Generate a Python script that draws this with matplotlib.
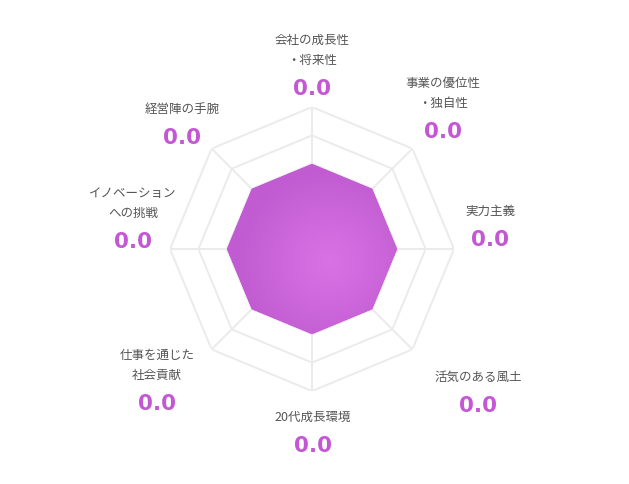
import numpy as np
import matplotlib
matplotlib.use("Agg")
import matplotlib.pyplot as plt
from matplotlib.colors import LinearSegmentedColormap

plt.rcParams['font.family'] = ['Noto Sans CJK JP', 'DejaVu Sans']

# 項目（上から時計回り）
labels = ['会社の成長性\n・将来性', '事業の優位性\n・独自性', '実力主義', '活気のある風土',
          '20代成長環境', '仕事を通じた\n社会貢献', 'イノベーション\nへの挑戦', '経営陣の手腕']
scores = [0.0, 0.0, 0.0, 0.0, 0.0, 0.0, 0.0, 0.0]
shape_values = [3, 3, 3, 3, 3, 3, 3, 3]
levels = [1, 2, 3, 4, 5]

# 数値ラベルの位置（中心からのピクセルオフセット）
label_offsets = [(0, 160), (131, 117), (178, 9), (166, -157),
                 (1, -197), (-155, -155), (-179, 7), (-130, 111)]

n = len(labels)
angles = np.linspace(0, 2 * np.pi, n, endpoint=False)
closed = np.append(angles, angles[0])

fig = plt.figure(figsize=(6.29, 4.84), dpi=100)
ax = fig.add_axes([0.2703, 0.1921, 0.4515, 0.5868], projection='polar')
ax.set_theta_zero_location('N')
ax.set_theta_direction(-1)
ax.set_ylim(0, 5)
ax.grid(False)
ax.spines['polar'].set_visible(False)
ax.set_xticks([])
ax.set_yticks([])
ax.patch.set_alpha(0)

grid_col = '#ebebeb'
for lv in levels:
    ax.plot(closed, [lv] * (n + 1), color=grid_col, lw=1.4, zorder=1)
for a in angles:
    ax.plot([a, a], [0, levels[-1]], color=grid_col, lw=1.4, zorder=1)

# 塗りつぶし（放射グラデーション）
vals = np.append(shape_values, shape_values[0])
poly = ax.fill(closed, vals, color='#c75fd6', lw=0, zorder=2)[0]
T, R = np.meshgrid(np.linspace(0, 2 * np.pi, 361), np.linspace(0, 5, 120))
X, Y = R * np.sin(T), R * np.cos(T)
D = np.hypot(X - 0.6, Y + 0.45)
cmap = LinearSegmentedColormap.from_list('g', ['#d872e4', '#c15bd1'])
mesh = ax.pcolormesh(T, R, D, cmap=cmap, vmin=0, vmax=3.2, shading='auto', zorder=3)
mesh.set_clip_path(poly)

for lab, sc, (dx, dy) in zip(labels, scores, label_offsets):
    ax.annotate(f'{sc:.1f}', xy=(0, 0), xytext=(dx, dy), textcoords='offset pixels',
                ha='center', va='center', fontsize=15.5, fontweight='bold',
                color='#c457d4', family='DejaVu Sans', annotation_clip=False)
    ax.annotate(lab, xy=(0, 0), xytext=(dx, dy + 22), textcoords='offset pixels',
                ha='center', va='bottom', fontsize=9, color='#555555',
                linespacing=1.75, annotation_clip=False)

fig.savefig('out.png', dpi=100)
